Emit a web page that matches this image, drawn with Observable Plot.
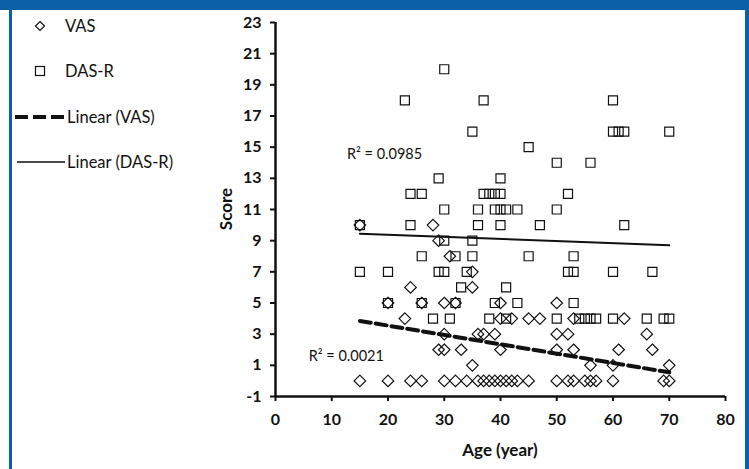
<!DOCTYPE html>
<html>
<head>
<meta charset="utf-8">
<script src="https://cdn.jsdelivr.net/npm/d3@7"></script>
<script src="https://cdn.jsdelivr.net/npm/@observablehq/plot@0.6"></script>
<style>
  html, body { margin: 0; padding: 0; background: #fff; }
  #wrap { position: relative; width: 749px; height: 469px; overflow: hidden; background: #fff; font-family: Lato, "Liberation Sans", sans-serif; }
  .bar-top { position: absolute; left: 0; top: 0; width: 749px; height: 10px; background: #0b5fa5; }
  .bar-left { position: absolute; left: 9px; top: 0; width: 3px; height: 469px; background: #0b5fa5; }
  .bar-right { position: absolute; left: 745px; top: 0; width: 4px; height: 469px; background: #0b5fa5; }
  #legend { position: absolute; left: 12px; top: 3px; }
  .item { display: flex; align-items: center; height: 45.5px; font-size: 16.5px; color: #111; }
  .item svg { flex: none; }
  #chart { position: absolute; left: 0; top: 0; }
  .title { position: absolute; font-weight: bold; font-size: 17px; color: #111; white-space: nowrap; line-height: 20px; }
  #ytitle { left: 226px; top: 209px; transform: translate(-50%, -50%) rotate(-90deg); }
  #xtitle { left: 500px; top: 450px; transform: translate(-50%, -50%); }
</style>
</head>
<body>
<div id="wrap">
  <div class="bar-top"></div>
  <div class="bar-left"></div>
  <div class="bar-right"></div>
  <div id="chart"></div>
  <div id="legend"></div>
  <div class="title" id="ytitle"></div>
  <div class="title" id="xtitle"></div>
</div>
<script>
// ---- data: [age (year), score] ----
const vasPoints = [
  [15,10],[15,0],[20,5],[20,0],[23,4],[24,6],[24,0],[26,5],[26,0],[28,10],
  [29,9],[29,2],[30,5],[30,3],[30,2],[30,0],[31,8],[32,5],[32,0],[33,2],
  [34,0],[35,7],[35,6],[35,1],[36,3],[36,0],[37,3],[37,0],[38,0],[39,3],
  [39,0],[40,5],[40,4],[40,2],[40,0],[41,0],[42,4],[42,0],[43,0],[45,4],
  [45,0],[47,4],[50,5],[50,3],[50,2],[50,0],[52,3],[52,0],[53,4],[53,2],
  [53,0],[55,0],[56,1],[56,0],[57,0],[60,1],[60,0],[61,2],[62,4],[66,3],
  [67,2],[69,0],[70,1],[70,0]
];
const dasPoints = [
  [15,10],[15,7],[20,7],[20,5],[23,18],[24,12],[24,10],[26,12],[26,8],[26,5],
  [28,4],[29,13],[29,7],[30,20],[30,11],[30,9],[30,7],[31,4],[32,8],[32,5],
  [33,6],[34,7],[35,16],[35,9],[35,8],[36,11],[36,10],[37,18],[37,12],[38,12],
  [38,4],[39,12],[39,11],[39,5],[40,13],[40,12],[40,11],[40,10],[41,11],[41,6],
  [41,4],[43,11],[43,5],[45,15],[45,8],[47,10],[50,14],[50,11],[50,4],[52,12],
  [52,7],[53,8],[53,7],[53,5],[54,4],[55,4],[56,14],[56,4],[57,4],[60,18],
  [60,16],[60,7],[60,4],[61,16],[62,16],[62,10],[66,4],[67,7],[69,4],[70,16],
  [70,4]
];
// trend line end points as drawn
const vasTrend = [[15,3.85],[70,0.55]];
const dasTrend = [[15,9.45],[70,8.7]];
// R² labels: [age, score, text]
const r2Labels = [[12.7,14.55,"R² = 0.0985"],[5.9,1.55,"R² = 0.0021"]];
const xTicks = [0,10,20,30,40,50,60,70,80];
const yTicks = [-1,1,3,5,7,9,11,13,15,17,19,21,23];
const legendLabels = ["VAS","DAS-R","Linear (VAS)","Linear (DAS-R)"];
const xTitle = "Age (year)";
const yTitle = "Score";

const ink = "#111";
const font = "Lato, 'Liberation Sans', sans-serif";

const chart = Plot.plot({
  width: 749,
  height: 469,
  marginLeft: 275,
  marginRight: 24,
  marginTop: 22,
  marginBottom: 73,
  style: { fontFamily: font, background: "transparent", color: ink, overflow: "visible" },
  x: { domain: [0, 80] },
  y: { domain: [-1, 23] },
  marks: [
    Plot.axisY({ ticks: yTicks, tickFormat: d => String(d), tickSize: 5, tickPadding: 9, strokeWidth: 2,
      fontSize: 16, fontWeight: "bold", label: null }),
    Plot.axisX({ ticks: xTicks, tickFormat: d => String(d), tickSize: 5, tickPadding: 12, strokeWidth: 2,
      fontSize: 16, fontWeight: "bold", label: null }),
    Plot.ruleX([0], { stroke: ink, strokeWidth: 2.5 }),
    Plot.ruleY([-1], { stroke: ink, strokeWidth: 2.5 }),
    Plot.dot(vasPoints, { x: d => d[0], y: d => d[1], symbol: "diamond2", r: 5.2, stroke: ink, strokeWidth: 1.2, fill: "none" }),
    Plot.dot(dasPoints, { x: d => d[0], y: d => d[1], symbol: "square", r: 5.1, stroke: ink, strokeWidth: 1.2, fill: "none" }),
    Plot.line(dasTrend, { x: d => d[0], y: d => d[1], stroke: ink, strokeWidth: 2 }),
    Plot.line(vasTrend, { x: d => d[0], y: d => d[1], stroke: ink, strokeWidth: 4, strokeDasharray: "11,5" }),
    Plot.text(r2Labels, { x: d => d[0], y: d => d[1], text: d => d[2], textAnchor: "start", fontSize: 14.5, fill: ink })
  ]
});
document.getElementById("chart").appendChild(chart);
d3.select("#xtitle").text(xTitle);
d3.select("#ytitle").text(yTitle);

// legend
const swatches = [
  `<svg width="53" height="20"><path d="M28,5.5L32.5,10L28,14.5L23.5,10Z" fill="none" stroke="${ink}" stroke-width="1.2"/></svg>`,
  `<svg width="53" height="20"><rect x="23.5" y="5.5" width="9" height="9" fill="none" stroke="${ink}" stroke-width="1.2"/></svg>`,
  `<svg width="55" height="20"><line x1="3" y1="10" x2="53" y2="10" stroke="${ink}" stroke-width="4" stroke-dasharray="13,5"/></svg>`,
  `<svg width="55" height="20"><line x1="5" y1="10" x2="53" y2="10" stroke="${ink}" stroke-width="1.6"/></svg>`
];
const legend = d3.select("#legend");
legendLabels.forEach((label, i) => {
  const row = legend.append("div").attr("class", "item");
  row.html(swatches[i]);
  row.append("span").text(label);
});
</script>
</body>
</html>
